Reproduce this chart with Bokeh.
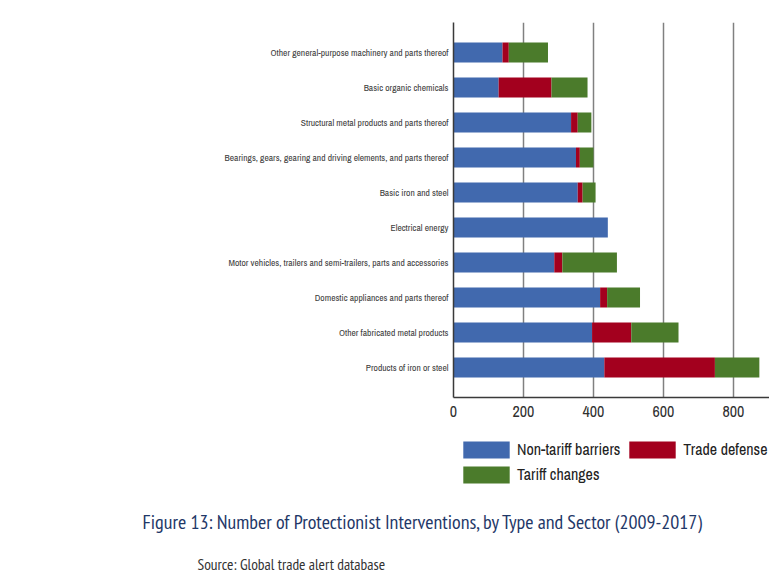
from bokeh.plotting import figure
from bokeh.layouts import column, row
from bokeh.models import FactorRange, Range1d, FixedTicker, Legend, LegendItem, Label
from bokeh.embed import file_html
from bokeh.resources import INLINE

sectors = [
    "Other general-purpose machinery and parts thereof",
    "Basic organic chemicals",
    "Structural metal products and parts thereof",
    "Bearings, gears, gearing and driving elements, and parts thereof",
    "Basic iron and steel",
    "Electrical energy",
    "Motor vehicles, trailers and semi-trailers, parts and accessories",
    "Domestic appliances and parts thereof",
    "Other fabricated metal products",
    "Products of iron or steel",
]
non_tariff = [140, 129, 336, 350, 355, 441, 288, 419, 396, 431]
trade_defense = [18, 151, 19, 11, 14, 0, 23, 20, 112, 316]
tariff_changes = [112, 103, 39, 39, 37, 0, 156, 94, 135, 127]
series = ["Non-tariff barriers", "Trade defense", "Tariff changes"]
colors = ["#4169AE", "#A3001E", "#4B7B2B"]
x_ticks = [0, 200, 400, 600, 800]
caption = "Figure 13: Number of Protectionist Interventions, by Type and Sector (2009-2017)"
source_note = "Source: Global trade alert database"

data = {"sector": sectors, series[0]: non_tariff, series[1]: trade_defense, series[2]: tariff_changes}

# main chart
p = figure(width=769, height=430, output_backend="svg", toolbar_location=None,
           y_range=FactorRange(*reversed(sectors), range_padding=0.0714),
           x_range=Range1d(0, 903),
           min_border_left=453, min_border_right=0, min_border_top=22, min_border_bottom=33)
p.outline_line_color = None
rs = p.hbar_stack(series, y="sector", height=0.57, color=colors, line_color=None, source=data)

p.xaxis.ticker = FixedTicker(ticks=x_ticks)
p.xgrid.ticker = FixedTicker(ticks=x_ticks)
p.xgrid.grid_line_color = "#808080"
p.xgrid.grid_line_width = 1.5
p.ygrid.grid_line_color = None
for ax in (p.xaxis[0], p.yaxis[0]):
    ax.axis_line_color = "#3a3a3a"
    ax.axis_line_width = 1.5
    ax.major_tick_line_color = None
    ax.minor_tick_line_color = None
    ax.major_tick_out = 0
    ax.major_tick_in = 0
p.yaxis.major_label_text_font = "Archivo Narrow"
p.yaxis.major_label_text_font_size = "9.5px"
p.yaxis.major_label_text_color = "#404040"
p.yaxis.major_label_standoff = 5
p.xaxis.major_label_text_font = "Archivo Narrow"
p.xaxis.major_label_text_font_size = "16px"
p.xaxis.major_label_text_color = "#303030"
p.xaxis.major_label_standoff = 8

# footer: legend, caption and source (same series, kept outside the visible x range)
q = figure(width=769, height=150, output_backend="svg", toolbar_location=None,
           x_range=Range1d(-2, -1), y_range=FactorRange(*reversed(sectors)),
           min_border_left=0, min_border_right=0, min_border_top=0, min_border_bottom=0)
q.axis.visible = False
q.grid.visible = False
q.outline_line_color = None
swatches = q.hbar_stack(series, y="sector", height=0.57, color=colors, line_color=None, source=data)
legend = Legend(items=[LegendItem(label=s, renderers=[r]) for s, r in zip(series, swatches)],
                orientation="horizontal", ncols=2, location=(457, 95),
                glyph_width=58, glyph_height=21, label_standoff=2, spacing=3,
                label_text_font="Archivo Narrow", label_text_font_size="16px",
                label_text_color="#222222",
                border_line_color=None, background_fill_alpha=0, margin=0, padding=0)
q.add_layout(legend, "center")
q.add_layout(Label(x=142, y=59, x_units="screen", y_units="screen", text=caption,
                   text_font="PT Sans Narrow", text_font_size="20px", text_color="#1F3868",
                   text_baseline="middle"))
q.add_layout(Label(x=197, y=17, x_units="screen", y_units="screen", text=source_note,
                   text_font="PT Sans Narrow", text_font_size="15.5px", text_color="#333333",
                   text_baseline="middle"))

open("out.html", "w").write(file_html(column(row(p), row(q), spacing=0), INLINE))
